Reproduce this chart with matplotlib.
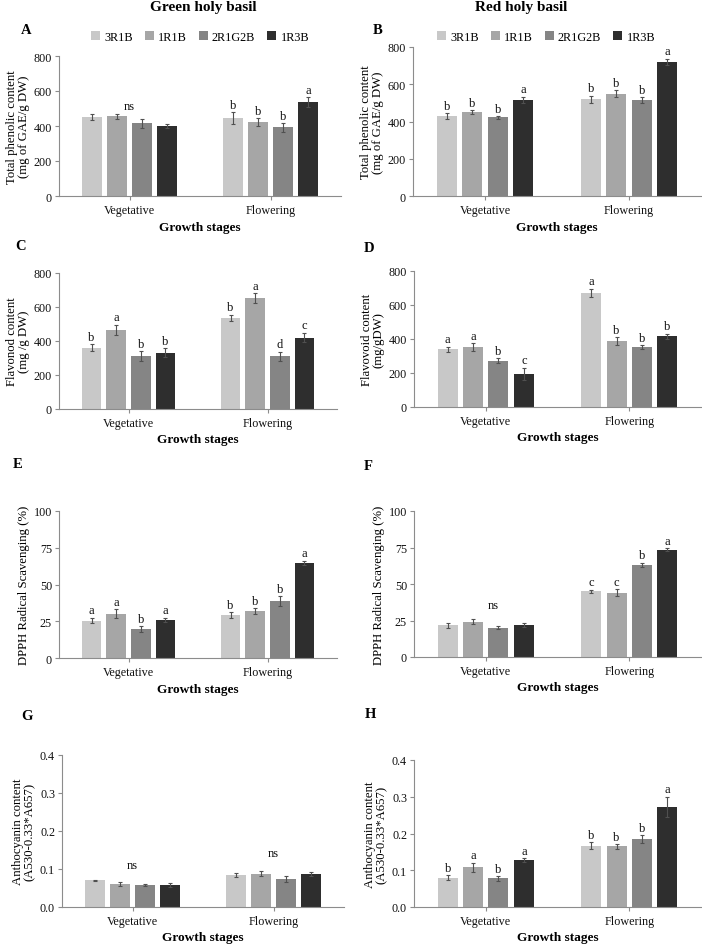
import matplotlib
matplotlib.use('Agg')
import matplotlib.pyplot as plt
import numpy as np

plt.rcParams['font.family'] = ['Liberation Serif', 'DejaVu Serif']

# ---------------- data ----------------
treatments = ['3R1B', '1R1B', '2R1G2B', '1R3B']
stages = ['Vegetative', 'Flowering']
bar_colors = ['#c8c8c8', '#a6a6a6', '#858585', '#2e2e2e']

# rows: Vegetative, Flowering ; columns: treatments
green_phenolic = [[451, 455, 415, 400], [444, 421, 392, 535]]
green_phenolic_err = [[18, 15, 25, 10], [35, 22, 25, 28]]
green_phenolic_letters = [None, ['b', 'b', 'b', 'a']]

red_phenolic = [[430, 450, 423, 515], [519, 549, 515, 719]]
red_phenolic_err = [[15, 10, 7, 18], [20, 18, 15, 18]]
red_phenolic_letters = [['b', 'b', 'b', 'a'], ['b', 'b', 'b', 'a']]

green_flavonoid = [[361, 467, 312, 331], [535, 653, 310, 420]]
green_flavonoid_err = [[20, 30, 28, 28], [20, 30, 28, 28]]
green_flavonoid_letters = [['b', 'a', 'b', 'b'], ['b', 'a', 'd', 'c']]

red_flavonoid = [[339, 353, 271, 196], [671, 388, 353, 416]]
red_flavonoid_err = [[15, 22, 15, 35], [25, 22, 12, 15]]
red_flavonoid_letters = [['a', 'a', 'b', 'c'], ['a', 'b', 'b', 'b']]

green_dpph = [[25.5, 30.0, 19.6, 26.0], [29.0, 32.0, 38.6, 64.6]]
green_dpph_err = [[2.0, 3.0, 2.0, 1.5], [2.0, 2.0, 3.5, 1.5]]
green_dpph_letters = [['a', 'a', 'b', 'a'], ['b', 'b', 'b', 'a']]

red_dpph = [[21.6, 24.3, 20.0, 21.8], [45.0, 44.0, 63.0, 73.4]]
red_dpph_err = [[1.5, 2.0, 1.0, 1.5], [1.0, 2.5, 1.5, 1.0]]
red_dpph_letters = [None, ['c', 'c', 'b', 'a']]

green_antho = [[0.070, 0.060, 0.057, 0.058], [0.084, 0.088, 0.074, 0.087]]
green_antho_err = [[0.002, 0.006, 0.003, 0.006], [0.005, 0.007, 0.008, 0.006]]
green_antho_letters = [None, None]

red_antho = [[0.080, 0.108, 0.078, 0.128], [0.167, 0.165, 0.185, 0.272]]
red_antho_err = [[0.006, 0.013, 0.006, 0.005], [0.010, 0.006, 0.010, 0.028]]
red_antho_letters = [['b', 'a', 'b', 'a'], ['b', 'b', 'b', 'a']]

# ---------------- figure ----------------
W, H = 702, 945
fig = plt.figure(figsize=(W / 100, H / 100), dpi=100)
AX_COLOR = '#8c8c8c'


def add_ax(x0, x1, y0, ytop):
    return fig.add_axes([x0 / W, 1 - y0 / H, (x1 - x0) / W, (y0 - ytop) / H])


def panel(ax, vals, errs, letters, ymax, yticks, ylabel, fmt, ns=None):
    x = np.arange(len(stages))
    step, bw = 0.177, 0.14
    for i, t in enumerate(treatments):
        pos = x + (i - 1.5) * step
        v = [vals[g][i] for g in range(2)]
        e = [errs[g][i] for g in range(2)]
        ax.bar(pos, v, bw, color=bar_colors[i], label=t, yerr=e,
               error_kw=dict(ecolor='#505050', elinewidth=0.8, capsize=1.6,
                             capthick=0.8), zorder=2)
        for g in range(2):
            if letters[g] is not None:
                ax.annotate(letters[g][i], (pos[g], v[g] + e[g]),
                            xytext=(0, 1), textcoords='offset points',
                            ha='center', va='bottom', fontsize=9,
                            color='#111111')
    if ns:
        for (gx, gy) in ns:
            ax.text(gx, gy, 'ns', ha='center', va='center', fontsize=9,
                    color='#111111')
    ax.set_xlim(-0.5, 1.5)
    ax.set_ylim(0, ymax)
    ax.set_yticks(yticks)
    ax.set_yticklabels([fmt.format(t) for t in yticks])
    ax.set_xticks(x)
    ax.set_xticklabels(stages)
    for s in ['top', 'right']:
        ax.spines[s].set_visible(False)
    for s in ['left', 'bottom']:
        ax.spines[s].set_color(AX_COLOR)
        ax.spines[s].set_linewidth(0.8)
    ax.tick_params(axis='y', length=3, width=0.8, color=AX_COLOR,
                   labelsize=8.7, pad=2, labelcolor='#111111')
    ax.tick_params(axis='x', length=3, width=0.8, color=AX_COLOR,
                   labelsize=8.7, pad=3, labelcolor='#111111')
    ax.set_xlabel('Growth stages', fontsize=9.6, fontweight='bold', labelpad=3)
    ax.set_ylabel(ylabel, fontsize=9.2, labelpad=3, linespacing=1.0)
    ax.set_facecolor('none')


def legend(ax, cx, cy):
    ax.legend(loc='center', bbox_to_anchor=(cx / W, 1 - cy / H),
              bbox_transform=fig.transFigure, ncol=4, frameon=False,
              fontsize=8.8, handlelength=0.75, handleheight=0.75,
              handletextpad=0.35, columnspacing=0.95, borderaxespad=0)


# A
axA = add_ax(59, 341, 197, 57)
panel(axA, green_phenolic, green_phenolic_err, green_phenolic_letters, 800,
      [0, 200, 400, 600, 800], 'Total phenolic content\n(mg of GAE/g DW)',
      '{:d}', ns=[(0, 514)])
legend(axA, 200, 38)

# B
axB = add_ax(413, 701, 197, 48)
panel(axB, red_phenolic, red_phenolic_err, red_phenolic_letters, 800,
      [0, 200, 400, 600, 800], 'Total phenolic content\n(mg of GAE/g DW)',
      '{:d}')
legend(axB, 546, 38)

# C
axC = add_ax(59, 337, 410, 274)
panel(axC, green_flavonoid, green_flavonoid_err, green_flavonoid_letters, 800,
      [0, 200, 400, 600, 800], 'Flavonod content\n(mg /g DW)', '{:d}')

# D
axD = add_ax(414, 701, 408, 272)
panel(axD, red_flavonoid, red_flavonoid_err, red_flavonoid_letters, 800,
      [0, 200, 400, 600, 800], 'Flavovoid content\n(mg/gDW)', '{:d}')

# E
axE = add_ax(59, 337, 659, 512)
panel(axE, green_dpph, green_dpph_err, green_dpph_letters, 100,
      [0, 25, 50, 75, 100], 'DPPH Radical Scavenging (%)', '{:d}')

# F
axF = add_ax(414, 701, 658, 512)
panel(axF, red_dpph, red_dpph_err, red_dpph_letters, 100,
      [0, 25, 50, 75, 100], 'DPPH Radical Scavenging (%)', '{:d}',
      ns=[(0.05, 35.6)])

# G
axG = add_ax(62, 344, 908, 756)
panel(axG, green_antho, green_antho_err, green_antho_letters, 0.4,
      [0.0, 0.1, 0.2, 0.3, 0.4], 'Anthocyanin content\n(A530-0.33*A657)',
      '{:.1f}', ns=[(0, 0.11), (1, 0.142)])

# H
axH = add_ax(414, 701, 908, 761)
panel(axH, red_antho, red_antho_err, red_antho_letters, 0.4,
      [0.0, 0.1, 0.2, 0.3, 0.4], 'Anthocyanin content\n(A530-0.33*A657)',
      '{:.1f}')

# titles & panel letters
fig.text(203 / W, 1 - 8 / H, 'Green holy basil', ha='center', va='center',
         fontsize=11, fontweight='bold')
fig.text(521 / W, 1 - 8 / H, 'Red holy basil', ha='center', va='center',
         fontsize=11, fontweight='bold')
for lab, (px, py) in {'A': (26, 30), 'B': (378, 30), 'C': (21, 247),
                      'D': (369, 248), 'E': (18, 465), 'F': (368, 467),
                      'G': (27, 716), 'H': (370, 715)}.items():
    fig.text(px / W, 1 - py / H, lab, ha='center', va='center', fontsize=10.5,
             fontweight='bold')

fig.savefig('out.png', dpi=100, facecolor='white')
